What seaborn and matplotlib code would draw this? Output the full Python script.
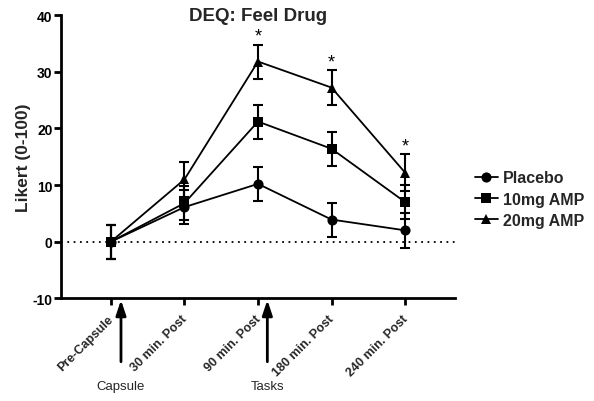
import numpy as np
import pandas as pd
import matplotlib
matplotlib.use("Agg")
import matplotlib.pyplot as plt
import matplotlib.transforms as mtransforms
import seaborn as sns

timepoints = ["Pre-Capsule", "30 min. Post", "90 min. Post", "180 min. Post", "240 min. Post"]
groups = ["Placebo", "10mg AMP", "20mg AMP"]
placebo = [0.0, 6.1, 10.2, 3.9, 2.0]
amp10 = [0.0, 6.8, 21.2, 16.4, 7.0]
amp20 = [0.0, 11.0, 31.8, 27.2, 12.2]
placebo_sem = [3.0, 3.0, 3.0, 3.0, 3.1]
amp10_sem = [3.0, 3.0, 3.0, 3.0, 3.0]
amp20_sem = [3.0, 3.1, 3.0, 3.1, 3.2]
star_idx = [2, 3, 4]
yticks = [-10, 0, 10, 20, 30, 40]

sns.set_theme(style="ticks")
plt.rcParams['font.family'] = ['Liberation Sans', 'DejaVu Sans']

means = {"Placebo": placebo, "10mg AMP": amp10, "20mg AMP": amp20}
sems = {"Placebo": placebo_sem, "10mg AMP": amp10_sem, "20mg AMP": amp20_sem}
rows = []
for g in groups:
    for i, t in enumerate(timepoints):
        rows.append({"idx": i, "time": t, "group": g, "value": means[g][i], "err": sems[g][i]})
df = pd.DataFrame(rows)

fig = plt.figure(figsize=(5.94, 4.02), dpi=100)
ax = fig.add_axes([0.1027, 0.2555, 0.6633, 0.7045])

ax.axhline(0, ls=(0, (1, 2.5)), color="black", lw=1.3, zorder=1)

for g in groups:
    sub = df[df["group"] == g]
    ax.errorbar(sub["idx"], sub["value"], yerr=sub["err"], fmt="none", ecolor="black",
                elinewidth=1.5, capsize=3.4, capthick=1.5, zorder=2)

markers = {"Placebo": "o", "10mg AMP": "s", "20mg AMP": "^"}
sns.lineplot(data=df, x="idx", y="value", style="group", style_order=groups,
             markers=markers, dashes=False, color="black", errorbar=None,
             markersize=7.3, markeredgewidth=0, linewidth=1.3, ax=ax, zorder=3)

for i in star_idx:
    top = amp20[i] + amp20_sem[i]
    ax.text(i, top + 0.7, "*", ha="center", va="baseline", fontsize=13, color="black")

ax.set_xlim(-0.68, 4.68)
ax.set_ylim(-10, 40)
ax.set_yticks(yticks)
ax.set_yticklabels([str(v) for v in yticks], fontsize=10, fontweight="bold")
ax.set_xticks(range(len(timepoints)))
ax.set_xticklabels([])
ax.set_xlabel("")
ax.set_ylabel("Likert (0-100)", fontsize=12.5, fontweight="bold", labelpad=1)
for s in ["top", "right"]:
    ax.spines[s].set_visible(False)
for s in ["left", "bottom"]:
    ax.spines[s].set_linewidth(2)
    ax.spines[s].set_color("black")
ax.tick_params(axis="both", width=2, length=5, color="black", labelcolor="black")
ax.tick_params(axis="y", pad=1)

tr = ax.get_xaxis_transform()
lab_tr = tr + mtransforms.ScaledTranslation(-3.5 / 100, -14.5 / 100, fig.dpi_scale_trans)
for i, t in enumerate(timepoints):
    ax.text(i, 0, t, transform=lab_tr, rotation=45, ha="right", va="top",
            rotation_mode="anchor", fontsize=9, fontweight="bold")

ax.text(0.5, 0.982, "DEQ: Feel Drug", transform=ax.transAxes, ha="center",
        va="baseline", fontsize=13.5, fontweight="bold")

for xpos, lab in [(0.136, "Capsule"), (2.127, "Tasks")]:
    ax.annotate("", xy=(xpos, -0.006), xytext=(xpos, -0.224), xycoords=tr, textcoords=tr,
                arrowprops=dict(arrowstyle="-|>,head_length=0.75,head_width=0.25", color="black", lw=2,
                                shrinkA=0, shrinkB=0))
    ax.text(xpos, -0.308, lab, transform=tr, ha="center", va="center", fontsize=9.5)

leg = ax.legend(loc="center left", bbox_to_anchor=(1.015, 0.35), frameon=False,
                prop={"weight": "bold", "size": 11.5}, handlelength=1.4, handletextpad=0.35,
                labelspacing=0.4, title=None)
for h in leg.legend_handles:
    h.set_markersize(7.3)

fig.savefig("out.png", dpi=100)
